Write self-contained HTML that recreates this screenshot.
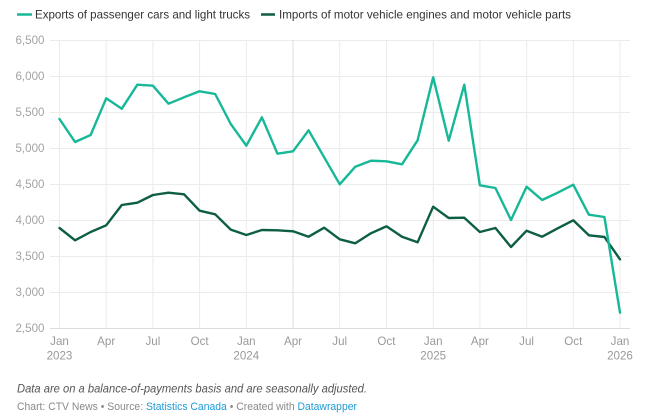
<!DOCTYPE html>
<html><head><meta charset="utf-8">
<style>
html,body{margin:0;padding:0;background:#fff;}
svg{display:block;font-family:"Liberation Sans",Arial,sans-serif;}
</style></head>
<body>
<svg width="660" height="419" viewBox="0 0 660 419" xmlns="http://www.w3.org/2000/svg">
<!-- legend -->
<line x1="17" y1="14.5" x2="32" y2="14.5" stroke="#17b897" stroke-width="2.5"/>
<text x="35" y="18.3" font-size="11.6" fill="#333" textLength="215" lengthAdjust="spacingAndGlyphs">Exports of passenger cars and light trucks</text>
<line x1="261" y1="14.5" x2="275" y2="14.5" stroke="#0d5e44" stroke-width="2.5"/>
<text x="279" y="18.3" font-size="11.6" fill="#333" textLength="292" lengthAdjust="spacingAndGlyphs">Imports of motor vehicle engines and motor vehicle parts</text>

<!-- horizontal grid -->
<g stroke="#ebebeb" stroke-width="1">
<line x1="50" y1="40.5" x2="630" y2="40.5"/>
<line x1="50" y1="76.5" x2="630" y2="76.5"/>
<line x1="50" y1="112.5" x2="630" y2="112.5"/>
<line x1="50" y1="148.5" x2="630" y2="148.5"/>
<line x1="50" y1="184.5" x2="630" y2="184.5"/>
<line x1="50" y1="220.5" x2="630" y2="220.5"/>
<line x1="50" y1="256.5" x2="630" y2="256.5"/>
<line x1="50" y1="292.5" x2="630" y2="292.5"/>
</g>
<!-- vertical grid -->
<g stroke="#ebebeb" stroke-width="1">
<line x1="59.5" y1="40" x2="59.5" y2="328"/>
<line x1="106.2" y1="40" x2="106.2" y2="328"/>
<line x1="152.9" y1="40" x2="152.9" y2="328"/>
<line x1="199.6" y1="40" x2="199.6" y2="328"/>
<line x1="246.3" y1="40" x2="246.3" y2="328"/>
<line x1="293" y1="40" x2="293" y2="328" stroke="#dedede"/>
<line x1="339.7" y1="40" x2="339.7" y2="328"/>
<line x1="386.4" y1="40" x2="386.4" y2="328"/>
<line x1="433.2" y1="40" x2="433.2" y2="328"/>
<line x1="479.9" y1="40" x2="479.9" y2="328"/>
<line x1="526.6" y1="40" x2="526.6" y2="328"/>
<line x1="573.3" y1="40" x2="573.3" y2="328"/>
<line x1="620" y1="40" x2="620" y2="328"/>
</g>
<line x1="50" y1="328.5" x2="630" y2="328.5" stroke="#dcdcdc" stroke-width="1"/>

<!-- y labels -->
<g font-size="11.6" fill="#a3a3a3" text-anchor="end">
<text x="44.5" y="44.2">6,500</text>
<text x="44.5" y="80.2">6,000</text>
<text x="44.5" y="116.2">5,500</text>
<text x="44.5" y="152.2">5,000</text>
<text x="44.5" y="188.2">4,500</text>
<text x="44.5" y="224.2">4,000</text>
<text x="44.5" y="260.2">3,500</text>
<text x="44.5" y="296.2">3,000</text>
<text x="44.5" y="332.2">2,500</text>
</g>

<!-- x labels -->
<g font-size="11.6" fill="#999" text-anchor="middle">
<text x="59.5" y="345">Jan</text><text x="59.5" y="359.3">2023</text>
<text x="106.2" y="345">Apr</text>
<text x="152.9" y="345">Jul</text>
<text x="199.6" y="345">Oct</text>
<text x="246.3" y="345">Jan</text><text x="246.3" y="359.3">2024</text>
<text x="293" y="345">Apr</text>
<text x="339.7" y="345">Jul</text>
<text x="386.4" y="345">Oct</text>
<text x="433.2" y="345">Jan</text><text x="433.2" y="359.3">2025</text>
<text x="479.9" y="345">Apr</text>
<text x="526.6" y="345">Jul</text>
<text x="573.3" y="345">Oct</text>
<text x="620" y="345">Jan</text><text x="620" y="359.3">2026</text>
</g>

<!-- imports -->
<polyline fill="none" stroke="#0d5e44" stroke-width="2.4" stroke-linejoin="round" stroke-linecap="round" points="
59.5,228 75.07,240.3 90.64,232 106.21,225.3 121.78,205 137.35,202.7 152.91,195 168.48,192.7 184.05,194.3 199.62,210.7 215.19,214.3 230.76,229.6 246.33,235 261.9,230 277.47,230.3 293.04,231.3 308.6,236.7 324.17,227.7 339.74,239.3 355.31,243.3 370.88,233.3 386.45,226.3 402.02,236.7 417.59,242.3 433.16,206.7 448.73,218 464.29,217.7 479.86,232 495.43,228 511,247 526.57,230.7 542.14,236.7 557.71,228.3 573.28,220.3 588.85,235.3 604.42,237 619.99,259.3"/>
<!-- exports -->
<polyline fill="none" stroke="#17b897" stroke-width="2.4" stroke-linejoin="round" stroke-linecap="round" points="
59.5,119 75.07,142 90.64,135 106.21,98.3 121.78,108.7 137.35,84.7 152.91,85.7 168.48,103.7 184.05,97.3 199.62,91.3 215.19,94 230.76,124 246.33,145.7 261.9,117.3 277.47,153.7 293.04,151.3 308.6,130.3 324.17,157.3 339.74,184.3 355.31,166.7 370.88,160.7 386.45,161.3 402.02,164.3 417.59,140.3 433.16,77.3 448.73,140.7 464.29,84.7 479.86,185.3 495.43,188 511,220 526.57,186.7 542.14,200 557.71,192.7 573.28,184.7 588.85,214.7 604.42,217 619.99,312.7"/>

<!-- footer -->
<text x="17" y="392.5" font-size="11.6" font-style="italic" fill="#555" textLength="350" lengthAdjust="spacingAndGlyphs">Data are on a balance-of-payments basis and are seasonally adjusted.</text>
<text x="17" y="410" font-size="11.2" fill="#8a8a8a" textLength="340" lengthAdjust="spacingAndGlyphs">Chart: CTV News • Source: <tspan fill="#1f9ad6">Statistics Canada</tspan> • Created with <tspan fill="#1f9ad6">Datawrapper</tspan></text>
</svg>
</body></html>
